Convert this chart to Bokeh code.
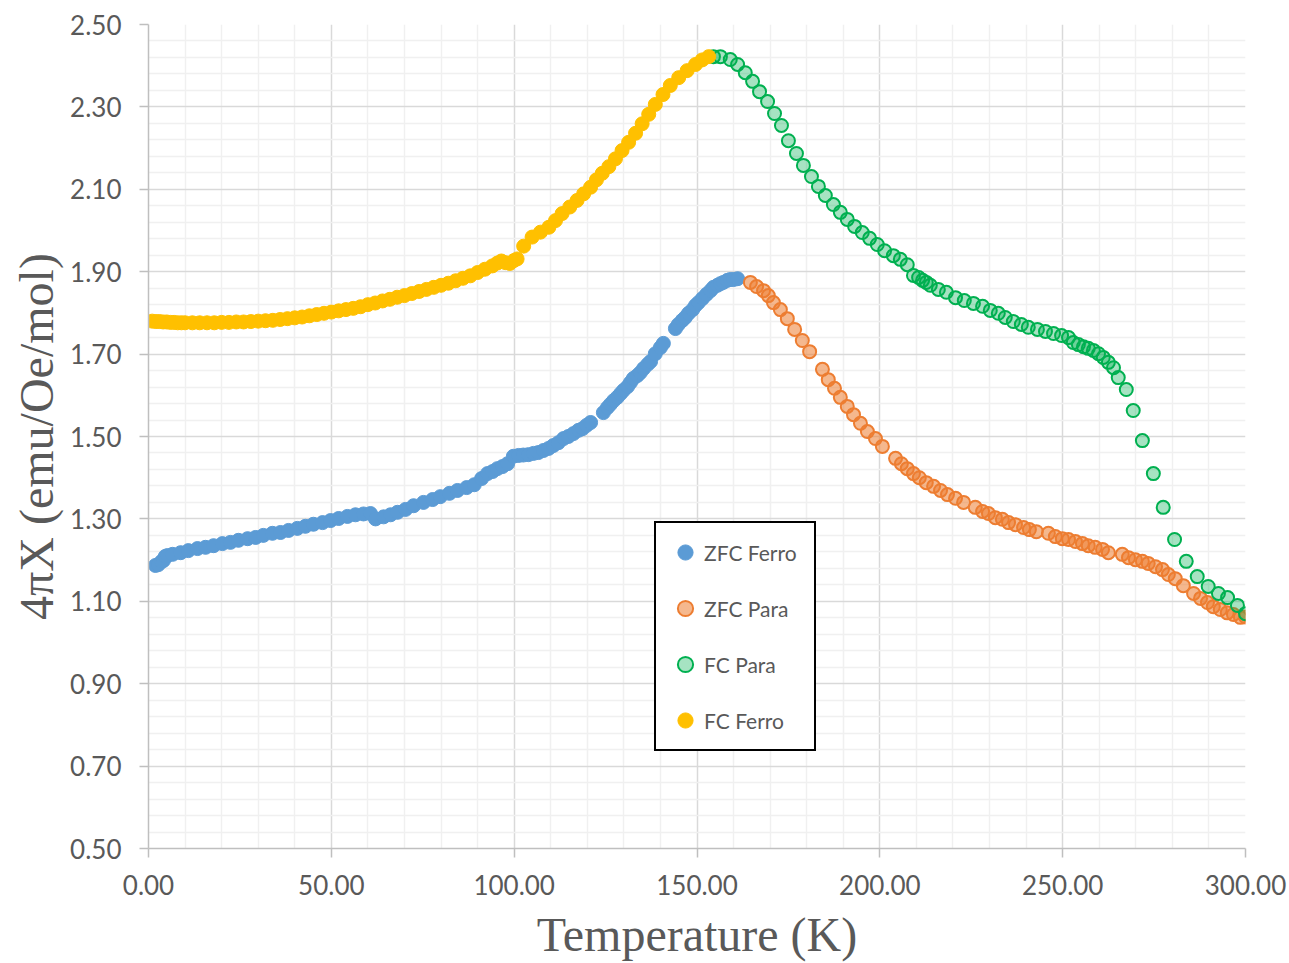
from bokeh.plotting import figure
from bokeh.models import FixedTicker, NumeralTickFormatter, Range1d
from bokeh.embed import file_html
from bokeh.resources import INLINE

# ---------------- data ----------------
zfc_ferro_T = [1.9, 2.7, 3.6, 4.1, 4.6, 5.2, 6.6, 8.8, 10.9, 13.4, 15.6, 17.8, 20.2, 22.4, 24.6,
               27.1, 29.3, 31.4, 33.9, 36.1, 38.3, 40.7, 42.9, 45.1, 47.6, 49.8, 52.0, 54.4, 56.6,
               58.8, 60.7, 62.1, 64.3, 66.2, 68.1, 70.3, 72.5, 75.2, 77.7, 79.8, 82.3, 84.5, 87.0,
               89.1, 91.1, 92.7, 94.1, 95.4, 96.8, 98.2, 99.8, 101.2, 102.5, 103.9, 105.3, 106.6,
               108.0, 109.4, 110.7, 112.1, 113.5, 114.8, 116.2, 117.6, 118.7, 119.8, 120.9, 124.4,
               125.5, 126.3, 127.2, 128.2, 129.1, 129.9, 131.0, 131.8, 132.6, 133.7, 134.5, 135.4,
               136.5, 137.3, 138.6, 140.0, 140.8, 144.1, 144.9, 146.0, 146.8, 147.7, 148.8, 149.6,
               150.4, 151.5, 152.6, 153.7, 154.5, 155.6, 156.4, 157.2, 158.3, 159.1, 160.0, 161.1]
zfc_ferro_X = [1.187, 1.189, 1.197, 1.199, 1.209, 1.211, 1.214, 1.218, 1.223, 1.228, 1.231, 1.235,
               1.240, 1.243, 1.248, 1.252, 1.255, 1.260, 1.265, 1.267, 1.272, 1.277, 1.282, 1.287,
               1.291, 1.296, 1.301, 1.306, 1.310, 1.312, 1.313, 1.300, 1.305, 1.310, 1.316, 1.323,
               1.332, 1.340, 1.347, 1.354, 1.362, 1.369, 1.376, 1.383, 1.398, 1.410, 1.415, 1.422,
               1.427, 1.434, 1.452, 1.454, 1.455, 1.456, 1.459, 1.461, 1.466, 1.471, 1.478, 1.485,
               1.495, 1.500, 1.507, 1.515, 1.519, 1.527, 1.534, 1.558, 1.570, 1.578, 1.587, 1.595,
               1.604, 1.612, 1.621, 1.631, 1.641, 1.648, 1.655, 1.665, 1.675, 1.682, 1.701, 1.716,
               1.726, 1.762, 1.772, 1.782, 1.789, 1.799, 1.808, 1.818, 1.825, 1.835, 1.845, 1.854,
               1.862, 1.867, 1.871, 1.874, 1.879, 1.881, 1.881, 1.883]

zfc_para_T = [164.6, 166.3, 168.2, 169.5, 170.9, 172.8, 174.7, 176.7, 178.8, 180.8, 184.3, 185.9,
              187.6, 189.2, 191.1, 192.8, 194.7, 196.6, 198.8, 200.7, 204.3, 205.9, 207.5, 209.2,
              210.8, 212.7, 214.7, 216.6, 218.5, 220.7, 222.9, 226.1, 228.1, 229.7, 231.6, 233.5,
              235.2, 237.1, 239.3, 240.9, 242.8, 246.1, 248.0, 249.9, 251.6, 253.5, 255.4, 257.0,
              258.9, 260.9, 262.5, 266.3, 268.0, 269.9, 271.8, 273.4, 275.4, 277.3, 278.9, 280.8,
              283.0, 285.8, 287.7, 289.6, 291.2, 293.1, 295.0, 296.7, 298.6, 300.0]
zfc_para_X = [1.874, 1.864, 1.854, 1.842, 1.825, 1.808, 1.786, 1.760, 1.733, 1.706, 1.663, 1.638,
              1.617, 1.595, 1.573, 1.553, 1.532, 1.512, 1.495, 1.476, 1.447, 1.434, 1.422, 1.410,
              1.400, 1.388, 1.379, 1.369, 1.359, 1.350, 1.340, 1.328, 1.318, 1.313, 1.303, 1.299,
              1.291, 1.286, 1.279, 1.274, 1.269, 1.265, 1.257, 1.252, 1.250, 1.245, 1.240, 1.235,
              1.231, 1.226, 1.218, 1.214, 1.206, 1.201, 1.197, 1.192, 1.184, 1.177, 1.165, 1.155,
              1.138, 1.119, 1.107, 1.097, 1.087, 1.080, 1.072, 1.068, 1.061, 1.062]

fc_para_T = [154.5, 156.4, 159.1, 161.1, 163.2, 165.2, 167.1, 169.3, 171.2, 173.1, 175.0, 177.2,
             179.1, 181.3, 183.2, 185.1, 187.3, 189.2, 191.1, 193.1, 195.2, 197.2, 199.3, 201.3,
             203.7, 205.6, 207.5, 209.2, 210.6, 211.7, 212.7, 213.8, 216.0, 218.2, 220.7, 223.1,
             225.6, 228.1, 230.2, 232.4, 234.3, 236.5, 238.7, 240.6, 243.1, 245.3, 247.5, 249.7,
             251.6, 252.9, 254.3, 255.7, 257.0, 258.4, 259.8, 261.1, 262.5, 263.9, 265.2, 267.4,
             269.3, 271.8, 274.8, 277.5, 280.6, 283.8, 286.8, 289.8, 292.6, 295.1, 297.8, 300.0]
fc_para_X = [2.422, 2.422, 2.415, 2.403, 2.383, 2.362, 2.337, 2.313, 2.284, 2.255, 2.218, 2.187,
             2.158, 2.131, 2.107, 2.085, 2.063, 2.044, 2.027, 2.010, 1.995, 1.981, 1.966, 1.951,
             1.939, 1.930, 1.917, 1.891, 1.886, 1.879, 1.874, 1.867, 1.857, 1.850, 1.837, 1.830,
             1.823, 1.816, 1.806, 1.799, 1.789, 1.779, 1.772, 1.765, 1.760, 1.755, 1.750, 1.745,
             1.740, 1.728, 1.723, 1.718, 1.714, 1.709, 1.701, 1.692, 1.680, 1.667, 1.643, 1.614,
             1.563, 1.490, 1.410, 1.328, 1.250, 1.197, 1.160, 1.136, 1.119, 1.109, 1.090, 1.070]

fc_ferro_T = [1.0, 2.0, 3.0, 4.0, 5.0, 6.0, 7.0, 8.0, 9.0, 10.0, 12.0, 14.0, 16.0, 18.0, 20.0, 22.0,
              24.0, 26.0, 28.0, 30.0, 32.0, 34.0, 36.0, 38.0, 40.0, 42.0, 44.0, 46.0, 48.0, 50.0,
              52.0, 54.0, 56.0, 58.0, 60.0, 62.0, 64.0, 66.0, 68.0, 70.0, 72.0, 74.0, 76.0, 78.0,
              80.0, 82.0, 84.0, 86.0, 88.0, 90.0, 92.0, 94.0, 95.4, 96.5, 97.6, 98.8, 99.9, 100.8,
              102.6, 104.9, 107.2, 109.5, 111.3, 113.1, 115.2, 117.2, 119.0, 120.9, 122.5, 124.1,
              125.9, 127.7, 129.5, 131.3, 133.2, 135.0, 136.8, 138.6, 140.7, 142.7, 145.0, 147.3,
              149.6, 151.4, 153.2]
fc_ferro_X = [1.780, 1.779, 1.779, 1.778, 1.778, 1.777, 1.777, 1.776, 1.776, 1.776, 1.776, 1.776,
              1.776, 1.776, 1.777, 1.777, 1.778, 1.778, 1.779, 1.780, 1.781, 1.782, 1.784, 1.786,
              1.788, 1.790, 1.793, 1.796, 1.799, 1.802, 1.805, 1.808, 1.811, 1.815, 1.820, 1.824,
              1.829, 1.833, 1.838, 1.842, 1.847, 1.852, 1.857, 1.862, 1.867, 1.872, 1.878, 1.884,
              1.890, 1.898, 1.906, 1.914, 1.921, 1.926, 1.922, 1.920, 1.927, 1.931, 1.962, 1.984,
              1.996, 2.008, 2.024, 2.041, 2.057, 2.073, 2.089, 2.105, 2.123, 2.139, 2.155, 2.174,
              2.194, 2.214, 2.236, 2.259, 2.282, 2.306, 2.330, 2.352, 2.371, 2.388, 2.403, 2.414,
              2.422, 2.427]

x_major = [0, 50, 100, 150, 200, 250, 300]
y_major = [0.5, 0.7, 0.9, 1.1, 1.3, 1.5, 1.7, 1.9, 2.1, 2.3, 2.5]
x_minor_step = 10
y_minor_step = 0.04

x_title = "Temperature (K)"
y_title = "4πX (emu/Oe/mol)"

# ---------------- figure ----------------
TICK_FONT = "Lato"
TEXT_COLOR = "#595959"

p = figure(width=1289, height=963, output_backend="svg", toolbar_location=None,
           x_range=Range1d(0, 300), y_range=Range1d(0.5, 2.5),
           min_border_left=148, min_border_right=44, min_border_top=24, min_border_bottom=115)
p.outline_line_color = None
p.background_fill_color = "white"
p.border_fill_color = "white"

x_minor = [v for v in range(0, 301, x_minor_step) if v not in x_major]
y_minor = [round(0.5 + i * y_minor_step, 2) for i in range(51)]
y_minor = [v for v in y_minor if all(abs(v - m) > 1e-6 for m in y_major)]

xt = FixedTicker(ticks=x_major, minor_ticks=x_minor)
yt = FixedTicker(ticks=y_major, minor_ticks=y_minor)
p.xaxis.ticker = xt
p.yaxis.ticker = yt
p.xgrid.ticker = xt
p.ygrid.ticker = yt

for g in (p.xgrid, p.ygrid):
    g.grid_line_color = "#d9d9d9"
    g.grid_line_width = 1.5
    g.minor_grid_line_color = "#f0f0f0"
    g.minor_grid_line_width = 1.5

for ax in (p.xaxis, p.yaxis):
    ax.formatter = NumeralTickFormatter(format="0.00")
    ax.axis_line_color = "#bfbfbf"
    ax.axis_line_width = 1.5
    ax.major_tick_line_color = "#bfbfbf"
    ax.major_tick_line_width = 1.5
    ax.major_tick_in = 0
    ax.major_tick_out = 9
    ax.minor_tick_line_color = None
    ax.major_label_text_font = TICK_FONT
    ax.major_label_text_font_size = "26px"
    ax.major_label_text_color = TEXT_COLOR
    ax.axis_label_text_font = "Liberation Serif"
    ax.axis_label_text_font_size = "48px"
    ax.axis_label_text_font_style = "normal"
    ax.axis_label_text_color = TEXT_COLOR

p.xaxis.axis_label = x_title
p.yaxis.axis_label = y_title
p.xaxis.major_label_standoff = 17
p.xaxis.axis_label_standoff = 10
p.yaxis.major_label_standoff = 18
p.yaxis.axis_label_standoff = 4

# ---------------- series ----------------
p.scatter(zfc_ferro_T, zfc_ferro_X, size=14, fill_color="#5B9BD5", line_color="#5B9BD5",
          line_width=1, legend_label="ZFC Ferro")
p.scatter(zfc_para_T, zfc_para_X, size=13, fill_color="#ED7D31", fill_alpha=0.55,
          line_color="#ED7D31", line_width=2, legend_label="ZFC Para")
p.scatter(fc_para_T, fc_para_X, size=13, fill_color="#00B050", fill_alpha=0.35,
          line_color="#00B050", line_width=2, legend_label="FC Para")
p.scatter(fc_ferro_T, fc_ferro_X, size=14, fill_color="#FFC000", line_color="#FFC000",
          line_width=1, legend_label="FC Ferro")

lg = p.legend[0]
lg.location = (506, 97)
lg.border_line_color = "black"
lg.border_line_alpha = 1.0
lg.border_line_width = 2
lg.background_fill_color = "white"
lg.background_fill_alpha = 1
lg.padding = 10
lg.spacing = 18
lg.margin = 0
lg.glyph_width = 38
lg.glyph_height = 38
lg.label_standoff = 0
lg.label_width = 100
lg.label_text_font = TICK_FONT
lg.label_text_font_size = "21px"
lg.label_text_color = TEXT_COLOR

open("out.html", "w").write(file_html(p, INLINE))
